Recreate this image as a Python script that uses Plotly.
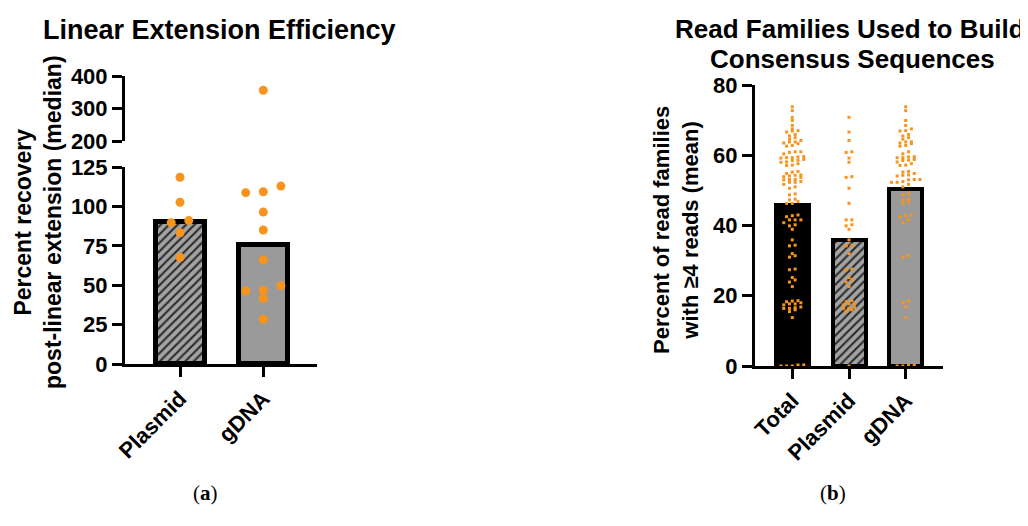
import plotly.graph_objects as go

# ---------------- data ----------------
# (a) Linear extension efficiency, percent recovery
left_categories = ["Plasmid", "gDNA"]
left_plasmid = [67.7, 83.3, 89.7, 91.0, 102.6, 118.5]
left_gdna = [28.4, 41.5, 46.3, 46.7, 49.7, 66.0, 85.0, 96.4, 108.7, 109.3, 112.9, 356.0]
left_medians = [90.0, 75.5]
left_low_ticks = [0, 25, 50, 75, 100, 125]
left_high_ticks = [200, 300, 400]

# (b) Read families with >=4 reads, percent
right_categories = ["Total", "Plasmid", "gDNA"]
right_plasmid = [70.8, 66.6, 64.2, 61.0, 60.8, 59.2, 58.0, 53.9, 53.7, 50.6, 46.3,
                 41.6, 41.6, 40.2, 39.9, 38.9, 35.9, 34.4, 34.2, 32.0, 27.6, 27.4,
                 25.2, 24.5, 23.9, 22.6, 18.6, 18.3, 17.7, 17.7, 17.4, 16.6, 16.4,
                 16.4, 16.0, 15.5, 0.0]
right_gdna = [73.8, 72.7, 69.9, 68.5, 67.5, 67.0, 66.9, 65.9, 65.5, 65.0, 64.6,
              63.8, 63.8, 63.5, 63.3, 62.8, 62.6, 61.0, 60.4, 59.6, 59.5, 59.3,
              59.3, 58.8, 58.6, 58.5, 58.1, 57.6, 57.2, 57.1, 55.4, 55.2, 54.8,
              54.4, 54.3, 54.1, 53.1, 53.1, 53.0, 52.5, 52.3, 52.3, 51.7, 51.0,
              49.0, 48.7, 47.5, 47.3, 46.8, 46.3, 43.0, 42.8, 42.5, 41.6, 40.8,
              31.4, 31.0, 18.5, 18.0, 16.8, 13.8, 0.3, 0.0, 0.3, 0.0]
right_total = right_plasmid + right_gdna
right_means = [45.7, 35.9, 50.3]
right_ticks = [0, 20, 40, 60, 80]

# ---------------- geometry helpers ----------------
PAGE_OFF = 8                 # default page margin around the plot div
W, H = 1028 - PAGE_OFF, 526 - PAGE_OFF
ORANGE = "#F7941D"
FONT = "Liberation Sans, Arial, sans-serif"


def px_x(p):
    return (p - PAGE_OFF) / W


def px_y(p):
    return 1 - (p - PAGE_OFF) / H


def swarm(values, px_per_unit, row_px, step):
    """Prism-like column scatter: values closer than row_px (pixels) to the
    start of a row share that row and are spread symmetrically."""
    order = sorted(range(len(values)), key=lambda i: values[i])
    rows, cur, start = [], [], None
    for i in order:
        if start is not None and (values[i] - start) * px_per_unit >= row_px:
            rows.append(cur)
            cur, start = [], None
        if start is None:
            start = values[i]
        cur.append(i)
    if cur:
        rows.append(cur)
    offs = [0.0] * len(values)
    for row in rows:
        n = len(row)
        for k, i in enumerate(row):
            offs[i] = (k - (n - 1) / 2) * step
    return offs


fig = go.Figure()

# ---------------- panel (a) ----------------
L_Y0, L_Y125 = 364, 167      # pixel rows of lower axis ends
L_Y200, L_Y400 = 141, 76     # pixel rows of upper axis ends
L_X0, L_X1 = 125, 317
L_CAT0, L_CAT1 = 180, 263.3
l_unit = L_CAT1 - L_CAT0
l_ppu_low = (L_Y0 - L_Y125) / 125.0
l_step = 17.6 / l_unit

fig.add_trace(go.Bar(x=[0], y=[left_medians[0]], width=[49 / l_unit],
                     marker=dict(color="#9a9a9a",
                                 line=dict(color="black", width=5),
                                 pattern=dict(shape="/", fgcolor="#2a2a2a",
                                              bgcolor="#a3a3a3", size=6,
                                              solidity=0.35, fillmode="replace")),
                     xaxis="x", yaxis="y", showlegend=False))
fig.add_trace(go.Bar(x=[1], y=[left_medians[1]], width=[49 / l_unit],
                     marker=dict(color="#9a9a9a",
                                 line=dict(color="black", width=5)),
                     xaxis="x", yaxis="y", showlegend=False))

for ci, vals in enumerate([left_plasmid, left_gdna]):
    low = [v for v in vals if v <= 125]
    high = [v for v in vals if v >= 200]
    offs = swarm(low, l_ppu_low, 7.0, l_step)
    fig.add_trace(go.Scatter(x=[ci + o for o in offs], y=low, mode="markers",
                             marker=dict(color=ORANGE, size=9),
                             cliponaxis=False, xaxis="x", yaxis="y",
                             showlegend=False))
    if high:
        offs_h = swarm(high, 0.325, 7.0, l_step)
        fig.add_trace(go.Scatter(x=[ci + o for o in offs_h], y=high,
                                 mode="markers",
                                 marker=dict(color=ORANGE, size=9),
                                 cliponaxis=False, xaxis="x", yaxis="y2",
                                 showlegend=False))

# ---------------- panel (b) ----------------
R_Y0, R_Y80 = 366, 85
R_X0, R_X1 = 755, 943
R_CAT0, R_CAT1 = 792.3, 849
r_unit = R_CAT1 - R_CAT0
r_ppu = (R_Y0 - R_Y80) / 80.0
r_step = 5.7 / r_unit
r_bw = 33 / r_unit

fig.add_trace(go.Bar(x=[0], y=[right_means[0]], width=[r_bw],
                     marker=dict(color="black", line=dict(color="black", width=4)),
                     xaxis="x3", yaxis="y3", showlegend=False))
fig.add_trace(go.Bar(x=[1], y=[right_means[1]], width=[r_bw],
                     marker=dict(color="#9a9a9a",
                                 line=dict(color="black", width=4),
                                 pattern=dict(shape="/", fgcolor="#2a2a2a",
                                              bgcolor="#a3a3a3", size=6,
                                              solidity=0.35, fillmode="replace")),
                     xaxis="x3", yaxis="y3", showlegend=False))
fig.add_trace(go.Bar(x=[2], y=[right_means[2]], width=[r_bw],
                     marker=dict(color="#9a9a9a", line=dict(color="black", width=4)),
                     xaxis="x3", yaxis="y3", showlegend=False))

for ci, vals in enumerate([right_total, right_plasmid, right_gdna]):
    offs = swarm(vals, r_ppu, 3.0, r_step)
    fig.add_trace(go.Scatter(x=[ci + o for o in offs], y=vals, mode="markers",
                             marker=dict(color=ORANGE, size=3, symbol="square"),
                             cliponaxis=False, xaxis="x3", yaxis="y3",
                             showlegend=False))

# ---------------- axes ----------------
axis_common = dict(showline=True, linecolor="black", linewidth=3,
                   ticks="outside", tickcolor="black", tickwidth=3,
                   showgrid=False, zeroline=False, fixedrange=True,
                   automargin=False,
                   tickfont=dict(family=FONT, size=22, color="black", weight="bold"))

fig.update_layout(
    width=W, height=H,
    margin=dict(l=0, r=0, t=0, b=0, autoexpand=False),
    paper_bgcolor="white", plot_bgcolor="white",
    barmode="overlay", bargap=0,
    xaxis=dict(domain=[px_x(L_X0), px_x(L_X1)],
               range=[(L_X0 - L_CAT0) / l_unit, 1 + (L_X1 - L_CAT1) / l_unit],
               anchor="y", tickvals=[0, 1], ticktext=left_categories,
               tickangle=-45, ticklen=10, **axis_common),
    yaxis=dict(domain=[px_y(L_Y0), px_y(L_Y125)], range=[0, 125], anchor="x",
               tickvals=left_low_ticks, ticklen=10, **axis_common),
    yaxis2=dict(domain=[px_y(L_Y200), px_y(L_Y400)], range=[200, 400], anchor="x",
                tickvals=left_high_ticks, ticklen=10, **axis_common),
    xaxis3=dict(domain=[px_x(R_X0), px_x(R_X1)],
                range=[(R_X0 - R_CAT0) / r_unit, 2 + (R_X1 - (R_CAT0 + 2 * r_unit)) / r_unit],
                anchor="y3", tickvals=[0, 1, 2], ticktext=right_categories,
                tickangle=-45, ticklen=10, **axis_common),
    yaxis3=dict(domain=[px_y(R_Y0), px_y(R_Y80)], range=[0, 80], anchor="x3",
                tickvals=right_ticks, ticklen=10, **axis_common),
)

# ---------------- text ----------------
def note(text, x, y, size, angle=0, family=FONT):
    fig.add_annotation(text=text, x=px_x(x), y=px_y(y), xref="paper", yref="paper",
                       xanchor="center", yanchor="middle", showarrow=False,
                       textangle=angle,
                       font=dict(family=family, size=size, color="black"))

note("<b>Linear Extension Efficiency</b>", 219, 30, 27)
note("<b>Read Families Used to Build</b>", 850, 29, 26)
note("<b>Consensus Sequences</b>", 852, 59, 26)
note("<b>Percent recovery<br>post-linear extension (median)</b>", 38, 222, 23, -90)
note("<b>Percent of read families<br>with ≥4 reads (mean)</b>", 676, 230, 22, -90)
note("(<b>a</b>)", 205, 493, 21, family="Liberation Serif, serif")
note("(<b>b</b>)", 833, 493, 21, family="Liberation Serif, serif")

fig.write_html("out.html")
